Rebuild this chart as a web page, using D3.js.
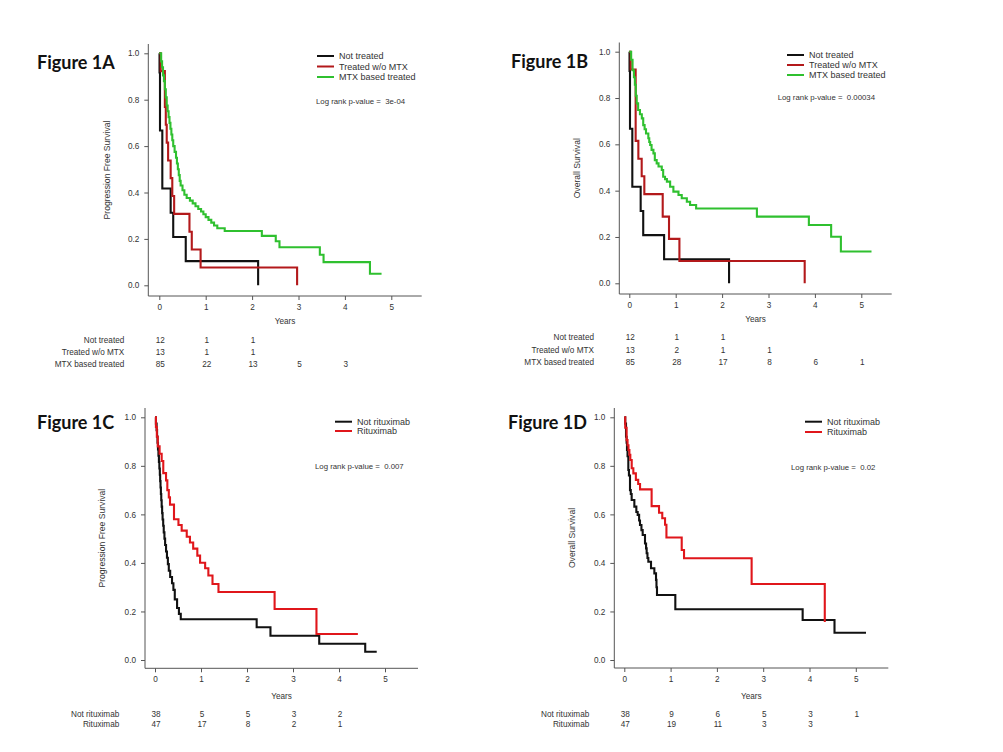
<!DOCTYPE html>
<html><head><meta charset="utf-8">
<script src="https://cdn.jsdelivr.net/npm/d3@7"></script>
<style>
html,body{margin:0;padding:0;background:#fff;}
text{font-family:"Liberation Sans",Arial,sans-serif;fill:#333;white-space:pre;}
.fig{font-family:Lato,"Open Sans",sans-serif;font-weight:bold;fill:#111;}
</style></head>
<body><svg id="c" width="1003" height="752"></svg>
<script>
// ---------------- data ----------------
const yearTicks = [0, 1, 2, 3, 4, 5];
const survTicks = [0, 0.2, 0.4, 0.6, 0.8, 1.0];

const groupsAB = ["Not treated", "Treated w/o MTX", "MTX based treated"];
const groupsCD = ["Not rituximab", "Rituximab"];
const pValues = ["3e-04", "0.00034", "0.007", "0.02"];
const figLabels = ["Figure 1A", "Figure 1B", "Figure 1C", "Figure 1D"];
const yTitles = ["Progression Free Survival", "Overall Survival", "Progression Free Survival", "Overall Survival"];

// Figure 1A (PFS) - time in years, survival after each time
const aNotTime = [0, 0.005, 0.015, 0.065, 0.245, 0.30, 0.57, 2.13];
const aNotSurv = [1, 0.917, 0.667, 0.417, 0.3125, 0.208, 0.104, 0];
const aNoMtxTime = [0, 0.03, 0.12, 0.14, 0.16, 0.19, 0.245, 0.28, 0.32, 0.65, 0.70, 0.89, 2.97];
const aNoMtxSurv = [1, 0.923, 0.769, 0.692, 0.615, 0.538, 0.462, 0.385, 0.308, 0.231, 0.154, 0.077, 0];
const aMtxTime = [0, 0.04, 0.06, 0.08, 0.10, 0.12, 0.14, 0.16, 0.18, 0.20, 0.22, 0.24, 0.26, 0.28, 0.30, 0.33, 0.36, 0.38, 0.40, 0.42, 0.44, 0.46, 0.50, 0.54, 0.59, 0.66, 0.72, 0.78, 0.84, 0.90, 0.95, 1.00, 1.06, 1.12, 1.18, 1.25, 1.41, 2.21, 2.51, 2.59, 3.46, 3.54, 4.54, 4.79];
const aMtxSurv = [1, 0.965, 0.94, 0.905, 0.88, 0.845, 0.81, 0.775, 0.75, 0.725, 0.70, 0.675, 0.65, 0.625, 0.60, 0.575, 0.55, 0.525, 0.50, 0.475, 0.45, 0.43, 0.41, 0.39, 0.376, 0.365, 0.353, 0.341, 0.329, 0.318, 0.306, 0.294, 0.282, 0.27, 0.258, 0.246, 0.234, 0.213, 0.19, 0.164, 0.132, 0.10, 0.05, 0.05];

// Figure 1B (OS)
const bNotTime = [0, 0.005, 0.015, 0.065, 0.245, 0.30, 0.75, 2.15];
const bNotSurv = [1, 0.917, 0.667, 0.417, 0.3125, 0.208, 0.104, 0];
const bNoMtxTime = [0, 0.03, 0.137, 0.195, 0.267, 0.324, 0.72, 0.856, 1.08, 3.78];
const bNoMtxSurv = [1, 0.923, 0.615, 0.538, 0.462, 0.385, 0.288, 0.192, 0.096, 0];
const bMtxTime = [0, 0.04, 0.07, 0.10, 0.12, 0.14, 0.16, 0.19, 0.23, 0.27, 0.30, 0.33, 0.36, 0.41, 0.43, 0.45, 0.48, 0.52, 0.55, 0.59, 0.63, 0.70, 0.73, 0.77, 0.81, 0.88, 0.95, 1.06, 1.13, 1.24, 1.31, 1.44, 2.75, 3.87, 4.35, 4.56, 5.22];
const bMtxSurv = [1, 0.965, 0.92, 0.89, 0.857, 0.81, 0.777, 0.748, 0.73, 0.712, 0.683, 0.665, 0.647, 0.626, 0.61, 0.597, 0.576, 0.561, 0.532, 0.518, 0.504, 0.489, 0.46, 0.45, 0.439, 0.417, 0.396, 0.381, 0.367, 0.352, 0.338, 0.323, 0.288, 0.252, 0.201, 0.137, 0.137];

// Figure 1C (PFS)
const cNotTime = [0, 0.02, 0.035, 0.045, 0.055, 0.065, 0.075, 0.085, 0.095, 0.105, 0.112, 0.12, 0.128, 0.136, 0.145, 0.155, 0.165, 0.178, 0.19, 0.205, 0.22, 0.24, 0.26, 0.28, 0.30, 0.33, 0.37, 0.40, 0.43, 0.48, 0.52, 0.56, 2.21, 2.51, 3.57, 4.57, 4.82];
const cNotSurv = [1, 0.974, 0.947, 0.921, 0.895, 0.868, 0.842, 0.816, 0.789, 0.763, 0.737, 0.711, 0.684, 0.658, 0.632, 0.605, 0.579, 0.553, 0.526, 0.50, 0.474, 0.447, 0.421, 0.395, 0.368, 0.342, 0.316, 0.289, 0.25, 0.214, 0.19, 0.168, 0.135, 0.10, 0.067, 0.034, 0.034];
const cRitTime = [0, 0.02, 0.04, 0.06, 0.10, 0.145, 0.18, 0.24, 0.268, 0.30, 0.326, 0.413, 0.51, 0.58, 0.69, 0.76, 0.83, 0.92, 0.98, 1.09, 1.16, 1.25, 1.38, 2.6, 3.51, 4.41];
const cRitSurv = [1, 0.96, 0.92, 0.88, 0.85, 0.82, 0.77, 0.74, 0.70, 0.67, 0.64, 0.58, 0.556, 0.533, 0.508, 0.484, 0.459, 0.43, 0.401, 0.378, 0.348, 0.313, 0.28, 0.21, 0.107, 0.107];

// Figure 1D (OS)
const dNotTime = [0, 0.02, 0.037, 0.05, 0.058, 0.07, 0.087, 0.10, 0.123, 0.14, 0.159, 0.217, 0.26, 0.289, 0.32, 0.339, 0.37, 0.397, 0.447, 0.47, 0.483, 0.50, 0.519, 0.577, 0.649, 0.685, 0.695, 0.706, 1.102, 3.852, 4.54, 5.22];
const dNotSurv = [1, 0.974, 0.92, 0.895, 0.865, 0.84, 0.783, 0.76, 0.70, 0.684, 0.659, 0.632, 0.61, 0.598, 0.575, 0.556, 0.535, 0.515, 0.48, 0.46, 0.44, 0.42, 0.405, 0.378, 0.357, 0.33, 0.30, 0.268, 0.209, 0.165, 0.112, 0.112];
const dRitTime = [0, 0.02, 0.05, 0.07, 0.09, 0.11, 0.13, 0.16, 0.195, 0.25, 0.30, 0.34, 0.59, 0.75, 0.82, 0.88, 0.91, 1.24, 1.29, 2.75, 4.33];
const dRitSurv = [1, 0.957, 0.906, 0.885, 0.865, 0.845, 0.824, 0.79, 0.769, 0.742, 0.725, 0.703, 0.634, 0.607, 0.584, 0.557, 0.505, 0.453, 0.419, 0.313, 0.157];

// numbers at risk (at years 0,1,2,...)
const aRiskNot = [12, 1, 1];
const aRiskNoMtx = [13, 1, 1];
const aRiskMtx = [85, 22, 13, 5, 3];
const bRiskNot = [12, 1, 1];
const bRiskNoMtx = [13, 2, 1, 1];
const bRiskMtx = [85, 28, 17, 8, 6, 1];
const cRiskNot = [38, 5, 5, 3, 2];
const cRiskRit = [47, 17, 8, 2, 1];
const dRiskNot = [38, 9, 6, 5, 3, 1];
const dRiskRit = [47, 19, 11, 3, 3];

// ---------------- styles / layout ----------------
const BLACK = "#111111", DARKRED = "#b3191b", GREEN = "#2fc02f", RED = "#e0161b";

const panels = [
  { idx: 0, x0: 159.3, x5: 391.3, xl: 148.3, xr: 421.7, y0: 285.3, y1: 53.3, yt: 44, yb: 296,
    figX: 37, figY: 69, yTitleX: 107, legX: 317, legYs: [56, 66.5, 77], pX: 316, pY: 101,
    riskX: 124.3, riskYs: [340, 352.5, 364.5], yearsY: 321,
    groups: groupsAB,
    curves: [[aNotTime, aNotSurv, BLACK], [aNoMtxTime, aNoMtxSurv, DARKRED], [aMtxTime, aMtxSurv, GREEN]],
    risk: [aRiskNot, aRiskNoMtx, aRiskMtx] },
  { idx: 1, x0: 629.3, x5: 861.3, xl: 619.3, xr: 891.7, y0: 283.3, y1: 51.7, yt: 42.5, yb: 294,
    figX: 511, figY: 68, yTitleX: 577, legX: 787, legYs: [55, 65, 75], pX: 777.7, pY: 97.7,
    riskX: 594, riskYs: [337.5, 350.5, 362.5], yearsY: 319,
    groups: groupsAB,
    curves: [[bNotTime, bNotSurv, BLACK], [bNoMtxTime, bNoMtxSurv, DARKRED], [bMtxTime, bMtxSurv, GREEN]],
    risk: [bRiskNot, bRiskNoMtx, bRiskMtx] },
  { idx: 2, x0: 155, x5: 385, xl: 145, xr: 418, y0: 660, y1: 417.3, yt: 408, yb: 668.3,
    figX: 37, figY: 429, yTitleX: 102, legX: 335, legYs: [421.7, 431], pX: 315, pY: 466.7,
    riskX: 119.3, riskYs: [714.3, 724.3], yearsY: 696,
    groups: groupsCD,
    curves: [[cNotTime, cNotSurv, BLACK], [cRitTime, cRitSurv, RED]],
    risk: [cRiskNot, cRiskRit] },
  { idx: 3, x0: 624.3, x5: 855.8, xl: 614.3, xr: 888.3, y0: 660, y1: 417.3, yt: 408, yb: 668,
    figX: 508, figY: 429, yTitleX: 572, legX: 805, legYs: [421.7, 432], pX: 791, pY: 467.7,
    riskX: 589.3, riskYs: [714.3, 724.3], yearsY: 696,
    groups: groupsCD,
    curves: [[dNotTime, dNotSurv, BLACK], [dRitTime, dRitSurv, RED]],
    risk: [dRiskNot, dRiskRit] }
];

const svg = d3.select("#c");
svg.append("rect").attr("width", 1003).attr("height", 752).attr("fill", "#fff");

panels.forEach(p => {
  const g = svg.append("g");
  const x = d3.scaleLinear().domain([0, 5]).range([p.x0, p.x5]);
  const y = d3.scaleLinear().domain([0, 1]).range([p.y0, p.y1]);

  // axes
  const ax = g.append("g").attr("transform", `translate(0,${p.yb})`)
    .call(d3.axisBottom(x).tickValues(yearTicks).tickFormat(d3.format("d")).tickSize(4).tickPadding(4));
  ax.select(".domain").attr("d", `M${p.xl},0H${p.xr}`);
  const ay = g.append("g").attr("transform", `translate(${p.xl},0)`)
    .call(d3.axisLeft(y).tickValues(survTicks).tickFormat(d3.format(".1f")).tickSize(4).tickPadding(5));
  ay.select(".domain").attr("d", `M0,${p.yt}V${p.yb}`);
  [ax, ay].forEach(a => {
    a.selectAll(".domain").attr("stroke", "#555").attr("stroke-width", 1);
    a.selectAll(".tick line").attr("stroke", "#555");
    a.selectAll(".tick text").attr("font-size", 8.2).attr("fill", "#333")
      .style("font-family", '"Liberation Sans",Arial,sans-serif');
  });

  // curves
  const line = d3.line().x(d => x(d[0])).y(d => y(d[1])).curve(d3.curveStepAfter);
  p.curves.forEach(([t, s, col]) => {
    const pts = t.map((v, i) => [v, s[i]]);
    g.append("path").attr("d", line(pts)).attr("fill", "none")
      .attr("stroke", col).attr("stroke-width", 2.1).attr("stroke-linejoin", "miter");
  });

  // figure label
  g.append("text").attr("class", "fig").attr("x", p.figX).attr("y", p.figY)
    .attr("font-size", 18).text(figLabels[p.idx]);

  // y title
  g.append("text").attr("transform", `translate(${p.yTitleX},${(p.yt + p.yb) / 2}) rotate(-90)`)
    .attr("text-anchor", "middle").attr("dominant-baseline", "central")
    .attr("font-size", 8.6).text(yTitles[p.idx]);

  // x title
  g.append("text").attr("x", (p.xl + p.xr) / 2).attr("y", p.yearsY)
    .attr("text-anchor", "middle").attr("dominant-baseline", "central")
    .attr("font-size", 8.2).text("Years");

  // legend
  p.groups.forEach((name, i) => {
    g.append("line").attr("x1", p.legX).attr("x2", p.legX + 17)
      .attr("y1", p.legYs[i]).attr("y2", p.legYs[i])
      .attr("stroke", p.curves[i][2]).attr("stroke-width", 2);
    g.append("text").attr("x", p.legX + 22).attr("y", p.legYs[i])
      .attr("dominant-baseline", "central").attr("font-size", 9).text(name);
  });
  g.append("text").attr("x", p.pX).attr("y", p.pY).attr("dominant-baseline", "central")
    .attr("font-size", 7.8).text("Log rank p-value =  " + pValues[p.idx]);

  // risk table
  p.groups.forEach((name, i) => {
    g.append("text").attr("x", p.riskX).attr("y", p.riskYs[i]).attr("text-anchor", "end")
      .attr("dominant-baseline", "central").attr("font-size", 8.2).text(name);
    p.risk[i].forEach((n, k) => {
      g.append("text").attr("x", x(yearTicks[k]) + 1).attr("y", p.riskYs[i])
        .attr("text-anchor", "middle").attr("dominant-baseline", "central")
        .attr("font-size", 8.2).text(n);
    });
  });
});
</script></body></html>
